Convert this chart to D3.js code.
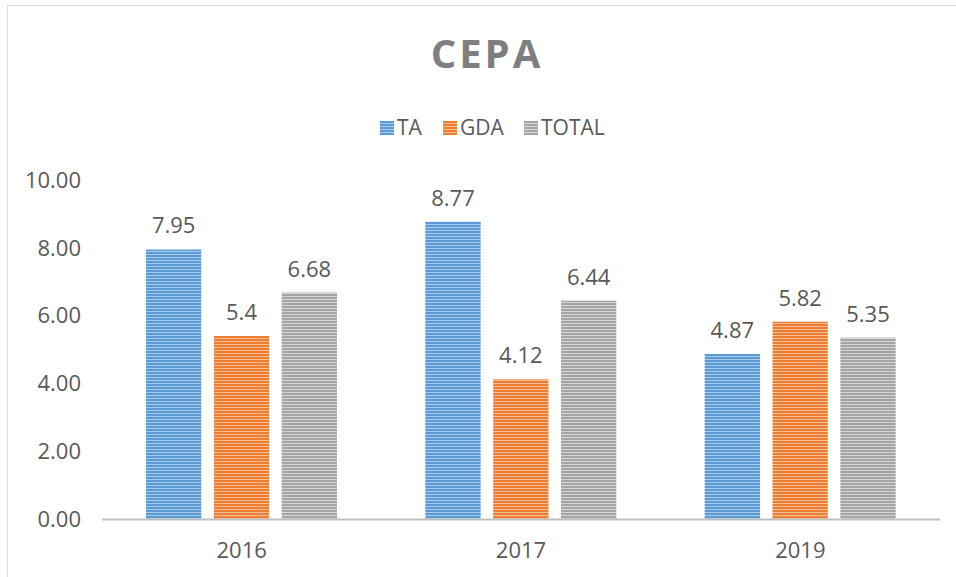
<!DOCTYPE html>
<html>
<head>
<meta charset="utf-8">
<script src="https://cdn.jsdelivr.net/npm/d3@7"></script>
<style>
  body { margin: 0; background: #fff; }
  text { font-family: "Open Sans", "Noto Sans", sans-serif; fill: #595959; }
</style>
</head>
<body>
<svg id="chart" width="956" height="577"></svg>
<script>
const years = ["2016", "2017", "2019"];
const seriesNames = ["TA", "GDA", "TOTAL"];
const taValues = [7.95, 8.77, 4.87];
const gdaValues = [5.4, 4.12, 5.82];
const totalValues = [6.68, 6.44, 5.35];
const yTicks = [0, 2, 4, 6, 8, 10];

const colors = { TA: ["#5B9BD5", "#A9CBEA"], GDA: ["#ED7D31", "#F6BE98"], TOTAL: ["#A5A5A5", "#D6D6D6"] };

const svg = d3.select("#chart");

// striped fills
const defs = svg.append("defs");
seriesNames.forEach(s => {
    const p = defs.append("pattern")
        .attr("id", "pat-" + s)
        .attr("patternUnits", "userSpaceOnUse")
        .attr("width", 6).attr("height", 3);
    p.append("rect").attr("width", 6).attr("height", 3).attr("fill", colors[s][0]);
    p.append("rect").attr("y", 2).attr("width", 6).attr("height", 1).attr("fill", colors[s][1]);
});

// outer border
svg.append("rect")
    .attr("x", 7.5).attr("y", 5.5)
    .attr("width", 960).attr("height", 600)
    .attr("fill", "none").attr("stroke", "#d9d9d9");

const margin = { left: 102, right: 16, top: 180, bottom: 58 };
const width = 956, height = 577;

const x0 = d3.scaleBand().domain(years).range([margin.left, width - margin.right]);
const x1 = d3.scaleBand().domain(seriesNames).range([44, 235]).paddingInner(0.185).paddingOuter(0);
const y = d3.scaleLinear().domain([0, 10]).range([height - margin.bottom, margin.top]);

const data = years.map((yr, i) => ({
    year: yr,
    values: [
        { key: "TA", v: taValues[i] },
        { key: "GDA", v: gdaValues[i] },
        { key: "TOTAL", v: totalValues[i] }
    ]
}));

// title
svg.append("text")
    .attr("x", 487).attr("y", 68)
    .attr("text-anchor", "middle")
    .style("font-size", "40px")
    .style("font-weight", "bold")
    .style("letter-spacing", "3px")
    .style("fill", "#7f7f7f")
    .text("CEPA");

// legend
const legendX = [380, 443, 524];
const legend = svg.append("g").selectAll("g")
    .data(seriesNames)
    .join("g")
    .attr("transform", (d, i) => `translate(${legendX[i]},121)`);
legend.append("rect")
    .attr("width", 14).attr("height", 14)
    .attr("fill", d => `url(#pat-${d})`);
legend.append("text")
    .attr("x", 17).attr("y", 7).attr("dy", "0.35em")
    .style("font-size", "21px")
    .text(d => d);

// y axis labels
svg.append("g")
    .selectAll("text")
    .data(yTicks)
    .join("text")
    .attr("x", 81).attr("y", d => y(d)).attr("dy", "0.35em")
    .attr("text-anchor", "end")
    .style("font-size", "22px")
    .text(d => d3.format(".2f")(d));

// bars
const groups = svg.append("g").selectAll("g")
    .data(data)
    .join("g")
    .attr("transform", d => `translate(${x0(d.year)},0)`);

groups.selectAll("rect")
    .data(d => d.values)
    .join("rect")
    .attr("x", d => x1(d.key))
    .attr("y", d => y(d.v))
    .attr("width", x1.bandwidth())
    .attr("height", d => y(0) - y(d.v))
    .attr("fill", d => `url(#pat-${d.key})`);

groups.selectAll("text")
    .data(d => d.values)
    .join("text")
    .attr("x", d => x1(d.key) + x1.bandwidth() / 2)
    .attr("y", d => y(d.v) - 16)
    .attr("text-anchor", "middle")
    .style("font-size", "22px")
    .text(d => d.v);

// x axis
svg.append("line")
    .attr("x1", margin.left).attr("x2", width - margin.right)
    .attr("y1", y(0) + 0.5).attr("y2", y(0) + 0.5)
    .attr("stroke", "#bfbfbf").attr("stroke-width", 2);

svg.append("g")
    .selectAll("text")
    .data(years)
    .join("text")
    .attr("x", d => x0(d) + x0.bandwidth() / 2)
    .attr("y", 550).attr("dy", "0.35em")
    .attr("text-anchor", "middle")
    .style("font-size", "22px")
    .text(d => d);
</script>
</body>
</html>
